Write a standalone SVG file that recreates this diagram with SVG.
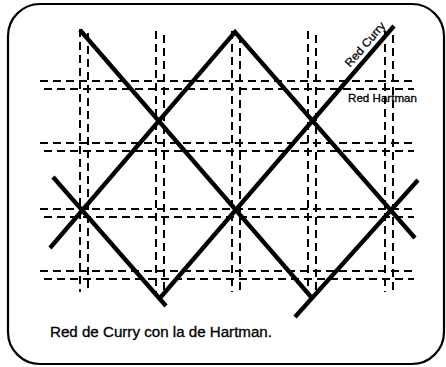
<svg xmlns="http://www.w3.org/2000/svg" width="446" height="367" viewBox="0 0 446 367">
<style>
.frame{fill:#fff;stroke:#000;stroke-width:2.2}
.h{stroke:#000;stroke-width:2;stroke-dasharray:8 5;fill:none}
.c{stroke:#000;stroke-width:4.3;fill:none;stroke-linecap:butt;stroke-linejoin:miter}
.t{font-family:"Liberation Sans",Arial,sans-serif;fill:#000;stroke:#000;stroke-width:0.3}
</style>
<rect width="446" height="367" fill="#fff"/>
<rect class="frame" x="8" y="4" width="436" height="360" rx="32" ry="32"/>
<g id="hartman-grid">
  <line class="h" x1="40" y1="81" x2="414" y2="81"/>
  <line class="h" x1="44" y1="89" x2="414" y2="89"/>
  <line class="h" x1="40" y1="143" x2="414" y2="143"/>
  <line class="h" x1="44" y1="151" x2="414" y2="151"/>
  <line class="h" x1="40" y1="209" x2="414" y2="209"/>
  <line class="h" x1="44" y1="217" x2="414" y2="217"/>
  <line class="h" x1="40" y1="271" x2="414" y2="271"/>
  <line class="h" x1="44" y1="279" x2="414" y2="279"/>
  <line class="h" x1="80" y1="29" x2="80" y2="292"/>
  <line class="h" x1="88" y1="33" x2="88" y2="292"/>
  <line class="h" x1="156" y1="31" x2="156" y2="292"/>
  <line class="h" x1="164" y1="35" x2="164" y2="292"/>
  <line class="h" x1="232" y1="31" x2="232" y2="292"/>
  <line class="h" x1="240" y1="35" x2="240" y2="292"/>
  <line class="h" x1="308" y1="31" x2="308" y2="292"/>
  <line class="h" x1="316" y1="35" x2="316" y2="292"/>
  <line class="h" x1="385" y1="31" x2="385" y2="292"/>
  <line class="h" x1="393" y1="35" x2="393" y2="292"/>
</g>
<g id="curry-grid">
  <line class="c" x1="80" y1="30" x2="312" y2="298"/>
  <polyline class="c" points="50,248 235,32 415,238"/>
  <line class="c" x1="53" y1="177" x2="166" y2="306"/>
  <line class="c" x1="160" y1="298" x2="394" y2="26"/>
  <line class="c" x1="295" y1="317" x2="418" y2="180"/>
</g>
<g id="labels">
  <text class="t" font-size="11.5" text-anchor="middle" textLength="55" lengthAdjust="spacingAndGlyphs" transform="translate(368,47) rotate(-49.3)">Red Curry</text>
  <text class="t" font-size="11" x="348" y="102" textLength="69" lengthAdjust="spacingAndGlyphs">Red Hartman</text>
  <text class="t" font-size="14" x="50" y="337" textLength="222" lengthAdjust="spacingAndGlyphs">Red de Curry con la de Hartman.</text>
</g>
</svg>
